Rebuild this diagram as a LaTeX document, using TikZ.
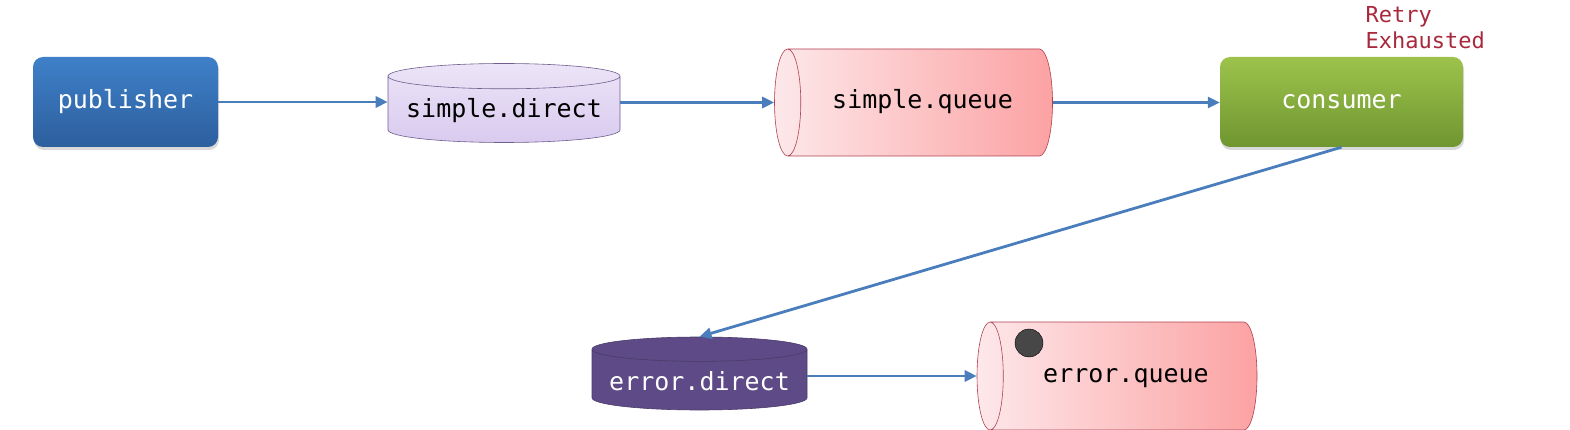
\documentclass[tikz,border=0pt]{standalone}
\usepackage{fontspec}
\setmonofont{DejaVu Sans Mono}
\usetikzlibrary{positioning,arrows.meta,shapes.geometric,shadows}

\definecolor{pubtop}{HTML}{3F80C8}
\definecolor{pubbot}{HTML}{2C5F9E}
\definecolor{contop}{HTML}{9DC34C}
\definecolor{conbot}{HTML}{6F9630}
\definecolor{qleft}{HTML}{FDE8EA}
\definecolor{qright}{HTML}{FCA2A3}
\definecolor{qline}{HTML}{B04050}
\definecolor{xtop}{HTML}{ECE4F7}
\definecolor{xbot}{HTML}{D9CBEF}
\definecolor{xline}{HTML}{6E5F8E}
\definecolor{errx}{HTML}{5D4A86}
\definecolor{arrowblue}{HTML}{4A7DBB}
\definecolor{retryred}{HTML}{A8283C}

\begin{document}
\begin{tikzpicture}[x=1pt,y=-1pt,
		every node/.style={font=\ttfamily\fontsize{25}{28}\selectfont},
		box/.style={rectangle,rounded corners=10pt,minimum width=185pt,minimum height=90pt,text=white,
			drop shadow={shadow xshift=1pt,shadow yshift=-3pt,opacity=0.3}},
		exch/.style={cylinder,shape border rotate=90,anchor=shape center,draw=xline,line width=0.6pt,
			top color=xtop,bottom color=xbot,aspect=0.125},
		queue/.style={cylinder,shape border rotate=180,anchor=shape center,draw=qline,line width=0.6pt,
			left color=qleft,right color=qright,aspect=0.83,text height=19pt,text depth=6pt,
			minimum height=278pt,minimum width=107pt},
		edge/.style={draw=arrowblue,line width=2.8pt,-{Triangle[length=12pt,width=11pt]}}]
		
		\useasboundingbox (0,0) rectangle (1570,430);
		
		%top row
		\node[box,top color=pubtop,bottom color=pubbot] (pub) at (125.5,102) {publisher};
		\node[exch,minimum width=232pt,minimum height=79pt] (sdir) at (504,103) {simple.direct};
		\node[queue] (sq) at (913.5,102.5) {simple.queue};
		\node[box,minimum width=243pt,top color=contop,bottom color=conbot] (con) at (1341.5,102) {consumer};
		\node[text=retryred,font=\ttfamily\fontsize{22}{25.5}\selectfont,align=left,anchor=north west] (retry) at (1362,3) {Retry\\Exhausted};
		
		%bottom row
		\node[exch,aspect=0.13,draw=errx!80!black,top color=errx,bottom color=errx,text=white,minimum width=215pt,minimum height=73pt] (edir) at (699.5,373.5) {error.direct};
		\node[queue,minimum width=108pt,minimum height=280pt] (eq) at (1117,376) {error.queue};
		\node[circle,draw=black,fill=black!72,minimum size=28pt,inner sep=0pt] (msg) at (1029,343) {};
		
		%edges
		\draw[edge] (pub.east) -- (pub.east -| sdir.west);
		\draw[edge] (sq.west -| sdir.east) -- (sq.west);
		\draw[edge] (sq.east) -- (sq.east -| con.west);
		\draw[edge] (con.south) -- (edir.north);
		\draw[edge] (eq.west -| edir.east) -- (eq.west);
		
\end{tikzpicture}
\end{document}
